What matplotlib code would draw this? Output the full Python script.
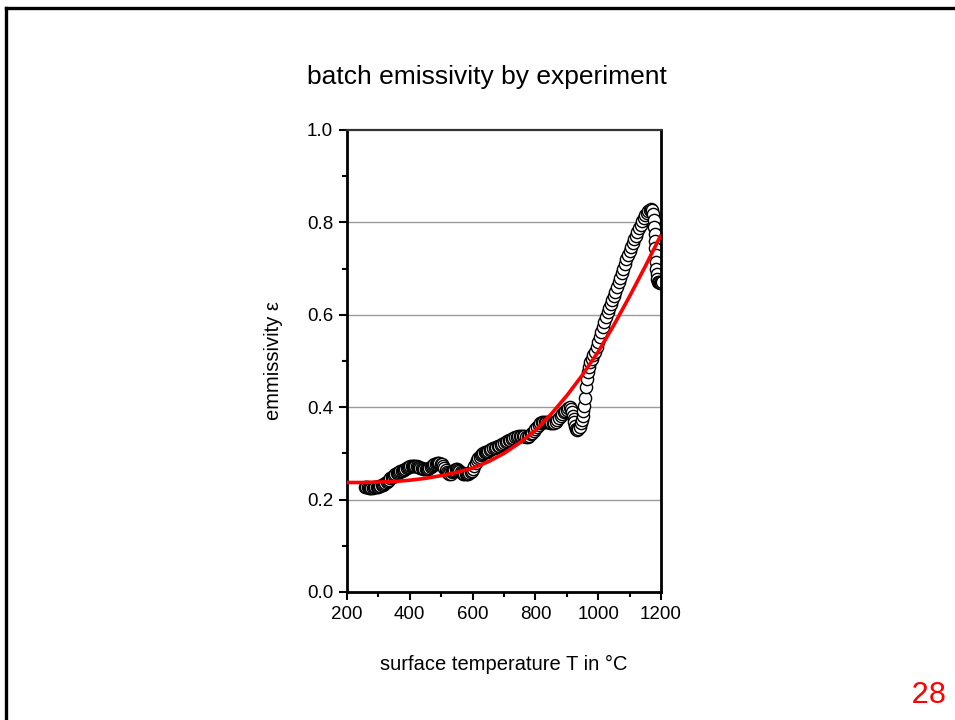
import matplotlib
matplotlib.use("Agg")
import matplotlib.pyplot as plt
from matplotlib.lines import Line2D
from matplotlib.ticker import MultipleLocator

plt.rcParams['font.family'] = ['Liberation Sans', 'DejaVu Sans']

# measured batch emissivity (in order of the experiment)
temp_C = [258, 262, 266, 270, 274, 278, 282, 286, 290, 294, 298, 302, 306, 310, 314, 318, 322, 326, 330, 334, 338,
          342, 346, 350, 354, 358, 362, 366, 370, 374, 378, 382, 386, 390, 394, 398, 402, 406, 410,
          414, 418, 422, 426, 430, 434, 438, 442, 446, 450, 454, 458, 462, 466, 470, 474, 478, 482, 486, 490,
          494, 498, 502, 506, 510, 514, 518, 522, 526, 530, 534, 538, 542, 546, 550, 554, 558, 562, 566, 570,
          574, 578, 582, 586, 590, 594, 598, 602, 606, 610, 614, 618, 622, 626, 630, 634, 638, 642, 646, 650,
          655, 660, 665, 670, 675, 680, 685, 690, 695, 700, 705, 710, 715, 720, 725, 730, 735, 740, 745, 750,
          755, 760, 765, 770, 775, 780, 785, 790, 795, 800, 805, 810, 815, 820, 825, 830, 835, 840, 845, 850,
          855, 860, 865, 870, 875, 880, 885, 890, 895, 900, 905, 910, 914, 917, 920, 922, 924, 926, 929, 933,
          937, 941, 945, 948, 951, 953, 955, 958, 961, 963, 966, 970, 975, 980, 985, 990, 995, 1000, 1005, 1010,
          1015, 1020, 1025, 1030, 1035, 1040, 1045, 1050, 1055, 1060, 1065, 1070, 1075, 1080, 1085, 1090, 1095,
          1100, 1105, 1110, 1115, 1120, 1125, 1130, 1135, 1140, 1145, 1150, 1155, 1160, 1165, 1168, 1172, 1175,
          1177, 1179, 1180, 1181, 1182, 1183, 1184, 1185, 1186, 1188, 1190, 1193, 1196, 1200, 1204]
emissivity = [.228, .227, .227, .226, .226, .226, .226, .227, .227, .227, .228, .229, .230, .231, .232, .234, .236, .238, .241, .243, .246,
              .248, .250, .253, .255, .257, .258, .260, .261, .262, .264, .265, .267, .268, .270, .271, .272, .273, .273,
              .273, .273, .272, .271, .270, .269, .268, .267, .266, .266, .266, .267, .268, .270, .272, .274, .276, .278, .279, .279,
              .279, .278, .276, .273, .269, .264, .260, .257, .255, .256, .259, .262, .265, .267, .267, .265, .262, .259, .257, .256,
              .255, .255, .255, .256, .257, .259, .262, .267, .273, .279, .285, .289, .293, .296, .298, .300, .302, .303, .304, .305,
              .307, .309, .311, .312, .313, .315, .317, .319, .321, .322, .324, .326, .328, .330, .332, .333, .335, .336, .337, .338,
              .338, .338, .337, .336, .336, .338, .341, .345, .349, .353, .358, .362, .365, .367, .368, .368, .368, .367, .366, .365,
              .365, .366, .369, .372, .376, .381, .385, .389, .392, .395, .398, .400, .396, .390, .382, .375, .367, .360, .353, .350,
              .352, .357, .365, .373, .382, .392, .402, .420, .443, .462, .476, .488, .497, .505, .512, .520, .530, .542, .553, .563,
              .574, .585, .595, .605, .614, .623, .632, .641, .650, .660, .670, .680, .690, .700, .710, .720, .730,
              .739, .747, .755, .763, .771, .779, .787, .795, .802, .809, .815, .820, .824, .827, .828, .826, .818,
              .805, .790, .775, .760, .745, .730, .715, .700, .688, .678, .672, .670, .668, .668, .670]

# fitted curve
fit_T = [200, 250, 300, 350, 400, 450, 500, 550, 600, 650, 700, 750, 800, 850, 900, 950, 1000, 1050, 1100, 1150, 1200]
fit_eps = [0.237, 0.237, 0.238, 0.239, 0.242, 0.246, 0.252, 0.259, 0.268, 0.282, 0.300, 0.323, 0.350, 0.385,
           0.425, 0.470, 0.520, 0.578, 0.640, 0.705, 0.773]

x_ticks = [200, 400, 600, 800, 1000, 1200]
y_ticks = [0.0, 0.2, 0.4, 0.6, 0.8, 1.0]

fig = plt.figure(figsize=(9.55, 7.2), dpi=100)
ax = fig.add_axes([347/955, 1 - 592/720, 314/955, 462/720])

for yv in y_ticks[1:-1]:
    ax.axhline(yv, color='#9a9a9a', lw=1.0, zorder=0)

ax.plot(temp_C, emissivity, linestyle='none', marker='o', markersize=8.8,
        markerfacecolor='white', markeredgecolor='black', markeredgewidth=1.0, zorder=2)
ax.plot(fit_T, fit_eps, color='#ff0000', lw=2.6, zorder=3, solid_capstyle='butt')

ax.set_xlim(200, 1200)
ax.set_ylim(0.0, 1.0)
ax.set_xticks(x_ticks)
ax.set_yticks(y_ticks)
ax.set_yticklabels([f"{v:.1f}" for v in y_ticks])
ax.xaxis.set_minor_locator(MultipleLocator(100))
ax.yaxis.set_minor_locator(MultipleLocator(0.1))
ax.tick_params(which='major', direction='out', length=6, width=1.5, labelsize=13.5, pad=4,
               top=False, right=False)
ax.tick_params(which='minor', direction='out', length=3.5, width=1.5, top=False, right=False)

for s in ['left', 'bottom', 'right']:
    ax.spines[s].set_linewidth(2.0)
    ax.spines[s].set_color('black')
ax.spines['top'].set_linewidth(1.6)
ax.spines['top'].set_color('#333333')

ax.set_xlabel('surface temperature T in °C', fontsize=14.5, labelpad=23)
ax.set_ylabel('emmissivity ε', fontsize=14.5, labelpad=17)

fig.text(487/955, 1 - 77/720, 'batch emissivity by experiment', ha='center', va='center', fontsize=19)
fig.text(929/955, 1 - 695/720, '28', ha='center', va='center', fontsize=22, color='#ff0000',
         family=['Liberation Mono', 'DejaVu Sans'])

# slide frame
fig.add_artist(Line2D([6/955, 6/955], [0, 1 - 8/720], transform=fig.transFigure, color='black', lw=2.4))
fig.add_artist(Line2D([6/955, 1], [1 - 8/720, 1 - 8/720], transform=fig.transFigure, color='black', lw=2.4))

fig.savefig('out.png', dpi=100)
